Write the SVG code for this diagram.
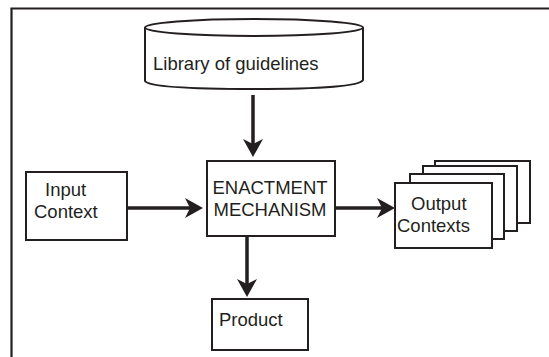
<svg xmlns="http://www.w3.org/2000/svg" width="549" height="357" viewBox="0 0 549 357">
<style>
.box{fill:#fff;stroke:#231f20;stroke-width:2}
.frame{fill:none;stroke:#231f20;stroke-width:2.2}
.lbl{font-family:"Liberation Sans",Arial,sans-serif;font-size:18.5px;fill:#231f20}
.conn{stroke:#231f20;stroke-width:3.5;fill:none}
</style>
<defs>
<marker id="ah" markerUnits="userSpaceOnUse" viewBox="0 0 18 20" refX="10" refY="10" markerWidth="18" markerHeight="20" orient="auto">
<path d="M0,0 L18,10 L0,20 L5,10 Z" fill="#231f20"/>
</marker>
</defs>
<rect width="549" height="357" fill="#fff"/>
<path class="frame" d="M11.5,357 V8.5 H549"/>
<g id="library">
<path class="box" d="M145,27.5 V81 Q150,89 254,89 Q358,89 363,80 V27.5"/>
<ellipse class="box" cx="254" cy="27.5" rx="109" ry="8.5"/>
<text class="lbl" x="153" y="70">Library of guidelines</text>
</g>
<g id="enactment">
<rect class="box" x="207" y="161" width="128" height="75"/>
<text class="lbl" x="270" y="194" text-anchor="middle">ENACTMENT</text>
<text class="lbl" x="270" y="216" text-anchor="middle">MECHANISM</text>
</g>
<g id="input">
<rect class="box" x="26" y="172" width="101" height="68"/>
<text class="lbl" x="45" y="196">Input</text>
<text class="lbl" x="34" y="218">Context</text>
</g>
<g id="output">
<rect class="box" x="435" y="161" width="95" height="62"/>
<rect class="box" x="423" y="166" width="94" height="65"/>
<rect class="box" x="410" y="174" width="94" height="65"/>
<rect class="box" x="395" y="183" width="97" height="65"/>
<text class="lbl" x="411" y="210">Output</text>
<text class="lbl" x="397" y="232">Contexts</text>
</g>
<g id="product">
<rect class="box" x="212" y="299" width="96" height="51"/>
<text class="lbl" x="219" y="326">Product</text>
</g>
<g id="connectors">
<line class="conn" x1="253" y1="95" x2="253" y2="149" marker-end="url(#ah)"/>
<line class="conn" x1="127" y1="208" x2="195" y2="208" marker-end="url(#ah)"/>
<line class="conn" x1="335" y1="208" x2="387" y2="208" marker-end="url(#ah)"/>
<line class="conn" x1="247" y1="236" x2="247" y2="289" marker-end="url(#ah)"/>
</g>
</svg>
